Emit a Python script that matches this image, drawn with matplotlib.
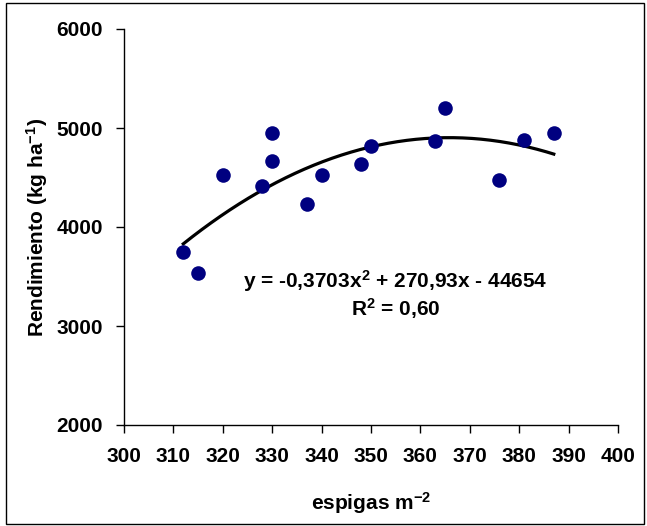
import numpy as np
import matplotlib
matplotlib.use("Agg")
import matplotlib.pyplot as plt
from matplotlib.patches import Rectangle

# Data
espigas = [312, 315, 320, 328, 330, 330, 337, 340, 348, 350, 363, 365, 376, 381, 387]
rendimiento = [3750, 3535, 4525, 4415, 4945, 4670, 4230, 4525, 4635, 4815, 4870, 5200, 4470, 4875, 4945]
# Trend line coefficients (as printed on the chart)
coef = [-0.3703, 270.93, -44654]
x_ticks = [300, 310, 320, 330, 340, 350, 360, 370, 380, 390, 400]
y_ticks = [2000, 3000, 4000, 5000, 6000]

plt.rcParams['font.family'] = ['Liberation Sans', 'DejaVu Sans']
plt.rcParams['font.weight'] = 'bold'
plt.rcParams['mathtext.fontset'] = 'custom'
plt.rcParams['mathtext.rm'] = 'Liberation Sans:bold'
plt.rcParams['mathtext.it'] = 'Liberation Sans:bold'
plt.rcParams['mathtext.bf'] = 'Liberation Sans:bold'
plt.rcParams['mathtext.default'] = 'rm'

fig = plt.figure(figsize=(6.47, 5.26), dpi=100)
ax = fig.add_axes([124/647, 1-425/526, (618-124)/647, (425-29)/526])

xs = np.linspace(min(espigas), max(espigas), 200)
ax.plot(xs, np.polyval(coef, xs), color='black', lw=2.3, zorder=2)
ax.scatter(espigas, rendimiento, s=110, color='#000080', zorder=3, linewidths=0)

ax.set_xlim(300, 400)
ax.set_ylim(2000, 6000)
ax.set_xticks(x_ticks)
ax.set_yticks(y_ticks)
ax.tick_params(axis='both', direction='out', length=6, width=1, labelsize=15)
ax.tick_params(axis='y', pad=9)
ax.tick_params(axis='x', pad=10)
for lab in ax.get_xticklabels() + ax.get_yticklabels():
    lab.set_fontweight('bold')
for s in ['top', 'right']:
    ax.spines[s].set_visible(False)
for s in ['left', 'bottom']:
    ax.spines[s].set_linewidth(1)

ax.set_xlabel('espigas m$^{-2}$', fontsize=15, fontweight='bold', labelpad=17)
ax.set_ylabel('Rendimiento (kg ha$^{-1}$)', fontsize=15, fontweight='bold', labelpad=5)

ax.text(355, 3455, 'y = -0,3703x$^{2}$ + 270,93x - 44654', ha='center', va='center',
        fontsize=15, fontweight='bold')
ax.text(355, 3175, 'R$^{2}$ = 0,60', ha='center', va='center', fontsize=15, fontweight='bold')

fig.patches.append(Rectangle((6/647, 2/526), 638/647, 521/526, transform=fig.transFigure,
                             fill=False, edgecolor='black', lw=1))

fig.savefig('out.png', dpi=100)
